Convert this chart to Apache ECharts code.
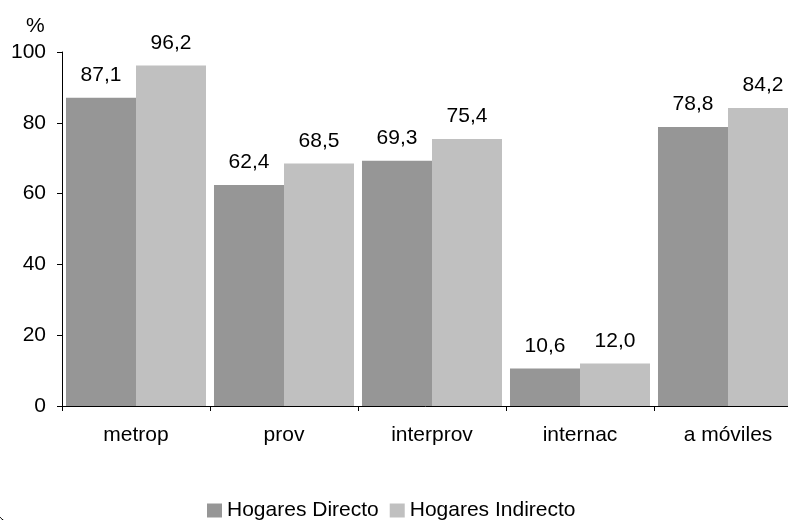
<!DOCTYPE html>
<html>
<head>
<meta charset="utf-8">
<script src="https://cdn.jsdelivr.net/npm/echarts@6/dist/echarts.min.js"></script>
<style>
  html, body { margin: 0; padding: 0; background: #fff; }
  #container { width: 788px; height: 520px; }
</style>
</head>
<body>
<div id="container"></div>
<script>
var categories = ['metrop', 'prov', 'interprov', 'internac', 'a móviles'];
var directo = [87.1, 62.4, 69.3, 10.6, 78.8];
var indirecto = [96.2, 68.5, 75.4, 12.0, 84.2];
var seriesNames = ['Hogares Directo', 'Hogares Indirecto'];

function fmt(p) {
	return p.value.toFixed(1).replace('.', ',');
}

var dom = document.getElementById("container");
var myChart = echarts.init(dom);
var font = 'Liberation Sans, Arial, sans-serif';
var option = {
	animation : false,
	color : [ '#969696', '#c0c0c0' ],
	textStyle : { fontFamily : font },
	grid : {
		left : 62,
		top : 52,
		width : 740,
		height : 354,
		outerBoundsMode : 'none'
	},
	legend : {
		left : 202,
		top : 495,
		itemWidth : 15,
		itemHeight : 14,
		itemGap : 11,
		icon : 'rect',
		textStyle : { fontSize : 21, color : '#000', fontFamily : font },
		data : seriesNames
	},
	graphic : [ {
		type : 'text',
		left : 26,
		top : 16,
		style : { text : '%', fontSize : 21, fill : '#000', fontFamily : font }
	}, {
		type : 'rect',
		silent : true,
		shape : { x : -5, y : -200, width : 2000, height : 724, r : 20 },
		style : { fill : 'none', stroke : '#000', lineWidth : 1 }
	} ],
	xAxis : [ {
		type : 'category',
		data : categories,
		axisLine : { lineStyle : { color : '#000' } },
		axisTick : { show : true, length : 5, lineStyle : { color : '#000' } },
		axisLabel : { fontSize : 21, color : '#000', margin : 19, fontFamily : font }
	} ],
	yAxis : [ {
		type : 'value',
		min : 0,
		max : 100,
		interval : 20,
		splitLine : { show : false },
		axisLine : { show : true, lineStyle : { color : '#000' } },
		axisTick : { show : true, length : 5, lineStyle : { color : '#000' } },
		axisLabel : { fontSize : 21, color : '#000', margin : 16, fontFamily : font }
	} ],
	series : [ {
		name : seriesNames[0],
		type : 'bar',
		barGap : '0%',
		barCategoryGap : '5.4%',
		data : directo,
		label : { show : true, position : 'top', distance : 12, fontSize : 21, color : '#000', formatter : fmt }
	}, {
		name : seriesNames[1],
		type : 'bar',
		data : indirecto,
		label : { show : true, position : 'top', distance : 12, fontSize : 21, color : '#000', formatter : fmt }
	} ]
};
myChart.setOption(option, true);
</script>
</body>
</html>
